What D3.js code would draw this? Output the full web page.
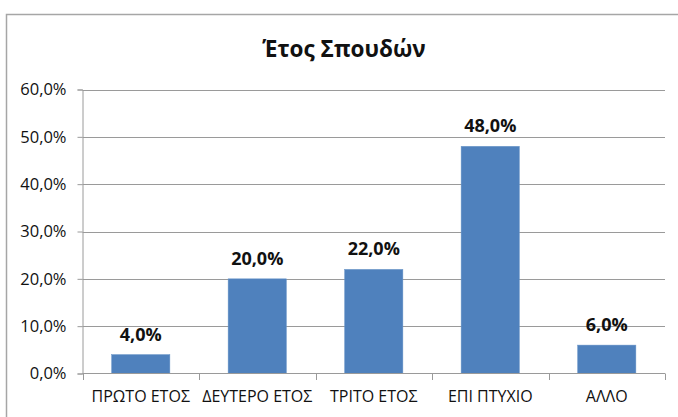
<!DOCTYPE html>
<html>
<head>
<meta charset="utf-8">
<script src="https://cdn.jsdelivr.net/npm/d3@7"></script>
<style>
  body { margin: 0; background: #fff; }
  text { font-family: "Open Sans", "Noto Sans", sans-serif; fill: #111; }
</style>
</head>
<body>
<svg width="678" height="417"></svg>
<script>
    const title = "Έτος Σπουδών";
    const categories = ["ΠΡΩΤΟ ΕΤΟΣ", "ΔΕΥΤΕΡΟ ΕΤΟΣ", "ΤΡΙΤΟ ΕΤΟΣ", "ΕΠΙ ΠΤΥΧΙΟ", "ΑΛΛΟ"];
    const values = [0.04, 0.20, 0.22, 0.48, 0.06];
    const yTicks = [0, 0.1, 0.2, 0.3, 0.4, 0.5, 0.6];

    let svg = d3.select("svg");
    let fmt = v => d3.format(".1f")(v * 100).replace(".", ",") + "%";

    // chart frame
    svg.append("rect")
        .attr("x", 6.5).attr("y", 14.5)
        .attr("width", 676).attr("height", 420)
        .attr("fill", "none")
        .attr("stroke", "#a6a6a6")
        .attr("stroke-width", 1.5);

    svg.append("text")
        .attr("x", 344).attr("y", 57)
        .attr("text-anchor", "middle")
        .style("font-size", "22.5px")
        .style("font-weight", "bold")
        .text(title);

    var x = d3.scaleBand().domain(categories).range([82.5, 665]).paddingInner(0.5).paddingOuter(0.25),
        y = d3.scaleLinear().domain([0, 0.6]).range([373.5, 89.5]);

    // gridlines
    svg.append("g")
        .selectAll("line")
        .data(yTicks.slice(1))
        .join("line")
        .attr("x1", 82.5).attr("x2", 665)
        .attr("y1", d => Math.round(y(d)) + 0.5)
        .attr("y2", d => Math.round(y(d)) + 0.5)
        .attr("stroke", "#9a9a9a");

    var yAxis = d3.axisLeft(y).tickValues(yTicks).tickFormat(fmt).tickSize(5).tickPadding(11);
    var gy = svg.append("g")
        .attr("transform", "translate(82.5,0)")
        .call(yAxis);
    gy.selectAll("line, path").attr("stroke", "#9a9a9a");
    gy.selectAll("text").style("font-size", "16.5px").style("font-family", "'Open Sans', sans-serif").attr("fill", "#1a1a1a");

    svg.append("g")
        .selectAll("rect")
        .data(values)
        .join("rect")
        .attr("x", (d, i) => x(categories[i]))
        .attr("width", x.bandwidth())
        .attr("y", d => y(d))
        .attr("height", d => y(0) - y(d))
        .attr("fill", "#4f81bd")
        .attr("stroke", "#6a95c8")
        .attr("stroke-width", 0.5);

    svg.append("g")
        .selectAll("text")
        .data(values)
        .join("text")
        .attr("x", (d, i) => x(categories[i]) + x.bandwidth() / 2)
        .attr("y", d => y(d) - 14)
        .attr("text-anchor", "middle")
        .style("font-size", "18px")
        .style("font-weight", "bold")
        .text(fmt);

    // x axis with ticks at the category boundaries
    var step = x.step();
    var gx = svg.append("g");
    gx.append("line")
        .attr("x1", 82.5).attr("x2", 665)
        .attr("y1", 373.5).attr("y2", 373.5)
        .attr("stroke", "#9a9a9a");
    gx.selectAll("line.tick")
        .data(d3.range(categories.length + 1))
        .join("line")
        .attr("class", "tick")
        .attr("x1", i => Math.round(82.5 + i * step) + 0.5)
        .attr("x2", i => Math.round(82.5 + i * step) + 0.5)
        .attr("y1", 373.5).attr("y2", 380)
        .attr("stroke", "#9a9a9a");
    gx.selectAll("text")
        .data(categories)
        .join("text")
        .attr("x", d => x(d) + x.bandwidth() / 2)
        .attr("y", 402)
        .attr("text-anchor", "middle")
        .style("font-size", "16px")
        .text(d => d);
</script>
</body>
</html>
